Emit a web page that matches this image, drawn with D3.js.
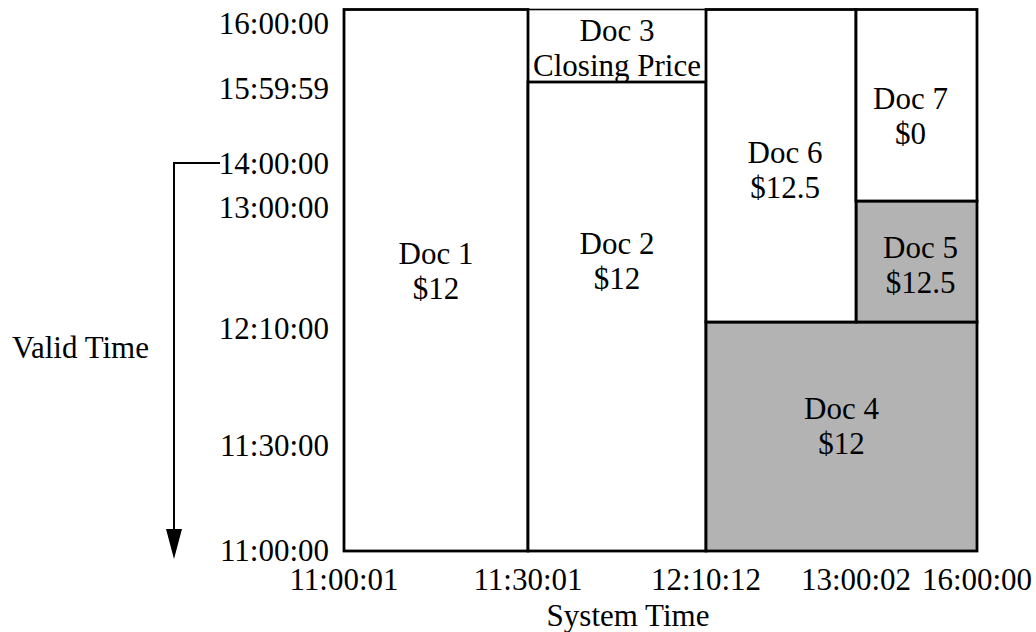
<!DOCTYPE html>
<html><head><meta charset="utf-8">
<script src="https://cdn.jsdelivr.net/npm/d3@7/dist/d3.min.js"></script>
<style>
body{margin:0;background:#fff}
svg{display:block}
text{font-family:"Liberation Serif","Times New Roman",serif;font-size:31px;fill:#000}
</style>
</head><body>
<svg id="chart" width="1036" height="632"></svg>
<script>
// ---- data ----
const systemTimes = ["11:00:01","11:30:01","12:10:12","13:00:02","16:00:00"];
const validTimes  = ["11:00:00","11:30:00","12:10:00","13:00:00","14:00:00","15:59:59","16:00:00"];
const docNames    = ["Doc 1","Doc 2","Doc 3","Doc 4","Doc 5","Doc 6","Doc 7"];
const docValues   = ["$12","$12","Closing Price","$12","$12.5","$12.5","$0"];
const docSysStart = ["11:00:01","11:30:01","11:30:01","12:10:12","13:00:02","12:10:12","13:00:02"];
const docSysEnd   = ["11:30:01","12:10:12","12:10:12","16:00:00","16:00:00","13:00:02","16:00:00"];
const docValidStart = ["11:00:00","11:00:00","15:59:59","11:00:00","12:10:00","12:10:00","13:00:00"];
const docValidEnd   = ["16:00:00","15:59:59","16:00:00","12:10:00","13:00:00","16:00:00","16:00:00"];
const docShaded   = [false,false,false,true,true,false,false];
const arrowTime   = "14:00:00";

// ---- layout ----
const sec = s => { const [h,m,x] = s.split(":").map(Number); return h*3600+m*60+x; };
const x = d3.scaleLinear().domain(systemTimes.map(sec)).range([344,528,706,856,977]);
const y = d3.scaleLinear().domain(validTimes.map(sec)).range([551,439,322,201,157,82,9.5]);
const labelShift = {"Doc 1":[0,-9],"Doc 2":[0,-56],"Doc 3":[0,2],"Doc 4":[0,-11],"Doc 5":[4,3],"Doc 6":[4,4],"Doc 7":[-6,11]};
const lineGap = 35;

const svg = d3.select("#chart");
const docs = docNames.map((n,i)=>({name:n,value:docValues[i],s0:sec(docSysStart[i]),s1:sec(docSysEnd[i]),
  v0:sec(docValidStart[i]),v1:sec(docValidEnd[i]),shaded:docShaded[i]}));

// boxes (thin Doc 3 first)
const order = docs.slice().sort((a,b)=> (a.name==="Doc 3"? -1 : b.name==="Doc 3" ? 1 : 0));
svg.append("g").selectAll("rect").data(order).join("rect")
  .attr("x", d=>x(d.s0)).attr("y", d=>y(d.v1))
  .attr("width", d=>x(d.s1)-x(d.s0)).attr("height", d=>y(d.v0)-y(d.v1))
  .attr("fill", d=>d.shaded? "#b3b3b3" : "#fff")
  .attr("stroke","#000")
  .attr("stroke-width", d=> d.name==="Doc 3" ? 1.6 : 2.8);

// box labels
const lg = svg.append("g").selectAll("g").data(docs).join("g")
  .attr("transform", d=>{
    const sh = labelShift[d.name]||[0,0];
    return `translate(${(x(d.s0)+x(d.s1))/2+sh[0]},${(y(d.v0)+y(d.v1))/2+sh[1]})`;
  });
lg.append("text").attr("text-anchor","middle").attr("dominant-baseline","central")
  .attr("y",-lineGap/2).text(d=>d.name);
lg.append("text").attr("text-anchor","middle").attr("dominant-baseline","central")
  .attr("y",lineGap/2).text(d=>d.value);

// y axis labels
const plotLeft = x.range()[0], plotBottom = y.range()[0], plotTop = y.range()[y.range().length-1];
const labelY = t => Math.max(plotTop+13.5, Math.min(plotBottom-1, y(sec(t))+6));
svg.append("g").selectAll("text").data(validTimes).join("text")
  .attr("x", plotLeft-15).attr("y", d=>labelY(d))
  .attr("text-anchor","end").attr("dominant-baseline","central").text(d=>d);

// x axis labels
svg.append("g").selectAll("text").data(systemTimes).join("text")
  .attr("x", d=>x(sec(d))).attr("y", plotBottom+39)
  .attr("text-anchor","middle").text(d=>d);

// axis titles
svg.append("text").attr("x",628).attr("y",626).attr("text-anchor","middle").text("System Time");
svg.append("text").attr("x",12).attr("y",347).attr("dominant-baseline","central").text("Valid Time");

// arrow
const ay = labelY(arrowTime), ax = 174;
svg.append("path").attr("d", `M${plotLeft-124},${ay}H${ax}V${plotBottom-20}`)
  .attr("fill","none").attr("stroke","#000").attr("stroke-width",2);
svg.append("path").attr("d", `M${ax-8},${plotBottom-22}L${ax+8},${plotBottom-22}L${ax},${plotBottom+8}Z`).attr("fill","#000");
</script>
</body></html>
